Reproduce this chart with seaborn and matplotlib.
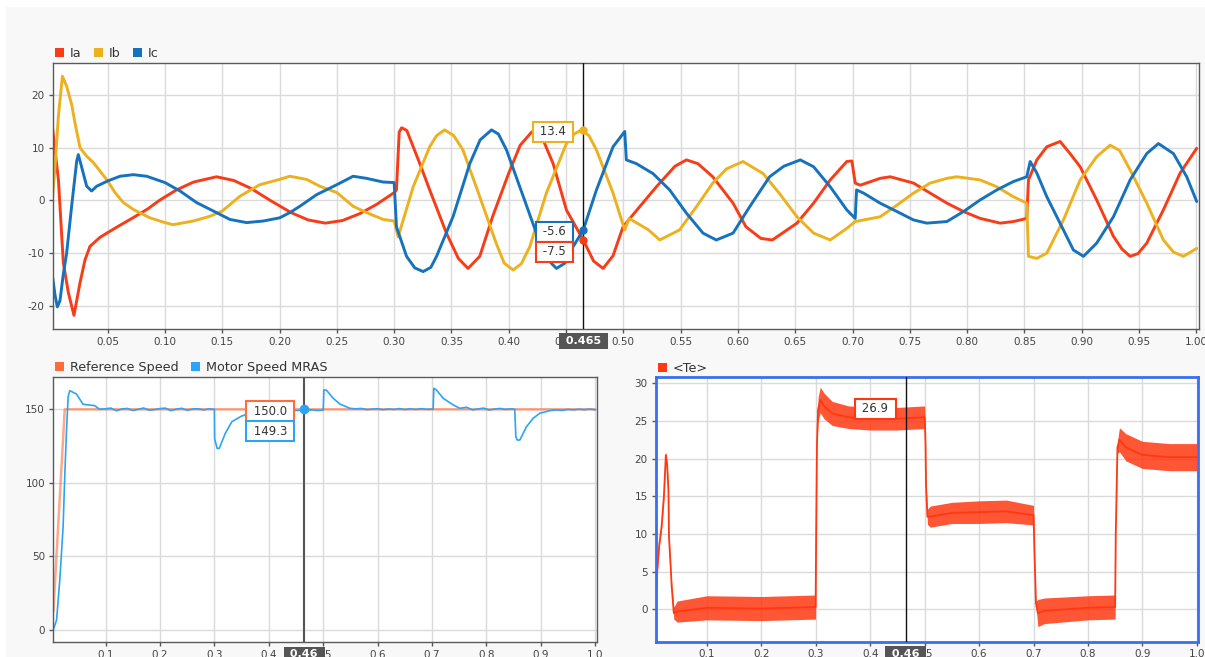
import numpy as np
import pandas as pd
import matplotlib
matplotlib.use("Agg")
import matplotlib.pyplot as plt
import matplotlib.transforms as mtransforms
from matplotlib.patches import Patch, Rectangle
import seaborn as sns

# ---------------- data ----------------
ia_t = [0.001, 0.007, 0.0113, 0.0157, 0.0206, 0.0259, 0.0302, 0.0346, 0.0433, 0.050, 0.060, 0.072, 0.085, 0.095,
        0.110, 0.125, 0.145, 0.160, 0.175, 0.192, 0.210, 0.225, 0.240, 0.255, 0.270, 0.285, 0.300, 0.302, 0.3044,
        0.3065, 0.311, 0.3224, 0.331, 0.3456, 0.356, 0.3645, 0.3747, 0.386, 0.400, 0.410, 0.420, 0.430, 0.4387,
        0.4503, 0.465, 0.474, 0.4823, 0.491, 0.4997, 0.5084, 0.5288, 0.545, 0.555, 0.565, 0.578, 0.5957, 0.607,
        0.620, 0.630, 0.6515, 0.666, 0.6805, 0.695, 0.6994, 0.7023, 0.7067, 0.724, 0.7329, 0.7532, 0.7677, 0.7823,
        0.7968, 0.8113, 0.8288, 0.8404, 0.852, 0.8535, 0.8608, 0.8695, 0.8811, 0.8898, 0.8986, 0.913, 0.9276,
        0.935, 0.9422, 0.949, 0.9567, 0.9712, 0.9858, 1.0003]
ia_v = [15.5, 4.0, -11.8, -17.5, -21.8, -15.6, -11.3, -8.7, -7.0, -6.1, -4.8, -3.3, -1.6, 0.0, 2.0, 3.5, 4.5, 3.8,
        2.3, 0.0, -2.3, -3.7, -4.3, -3.8, -2.5, -0.7, 1.5, 2.0, 13.0, 13.8, 13.3, 7.0, 2.0, -6.2, -11.0, -12.9,
        -10.6, -3.0, 5.2, 10.5, 13.0, 11.5, 7.0, -1.8, -7.5, -11.5, -12.9, -10.5, -5.0, -2.7, 2.6, 6.5, 7.7, 7.0,
        4.5, -0.5, -5.0, -7.2, -7.5, -4.3, -0.5, 3.9, 7.4, 7.5, 3.3, 2.9, 4.2, 4.5, 3.3, 1.4, -0.5, -2.1, -3.4,
        -4.3, -4.0, -3.4, 3.9, 7.7, 10.2, 11.2, 8.9, 6.4, 0.1, -6.8, -9.2, -10.6, -10.1, -8.1, -1.8, 5.2, 9.9]

ib_t = [0.001, 0.0041, 0.007, 0.0105, 0.0142, 0.0186, 0.0215, 0.0259, 0.0317, 0.0375, 0.0433, 0.050, 0.0564,
        0.0637, 0.0724, 0.0869, 0.100, 0.107, 0.1247, 0.1392, 0.150, 0.1654, 0.1828, 0.200, 0.209, 0.2236, 0.2352,
        0.250, 0.2642, 0.2759, 0.2904, 0.300, 0.3035, 0.3166, 0.331, 0.337, 0.344, 0.352, 0.360, 0.3747, 0.389,
        0.396, 0.4038, 0.411, 0.4183, 0.4328, 0.4503, 0.457, 0.4634, 0.470, 0.4765, 0.491, 0.5012, 0.505, 0.522,
        0.5317, 0.549, 0.5637, 0.578, 0.590, 0.6044, 0.622, 0.6363, 0.6515, 0.666, 0.6805, 0.695, 0.7023, 0.724,
        0.7387, 0.7532, 0.7677, 0.7823, 0.791, 0.8113, 0.8259, 0.8404, 0.852, 0.8535, 0.8608, 0.8695, 0.884,
        0.8986, 0.913, 0.9247, 0.933, 0.9422, 0.9567, 0.9712, 0.980, 0.9887, 1.0003]
ib_v = [-2.0, 6.5, 16.0, 23.6, 21.7, 18.2, 14.7, 10.0, 8.4, 7.2, 5.6, 3.7, 1.5, -0.4, -1.7, -3.3, -4.2, -4.6, -3.9,
        -3.0, -2.0, 0.8, 3.0, 4.0, 4.6, 4.0, 2.7, 1.5, -1.1, -2.3, -3.6, -3.9, -6.9, 2.6, 10.2, 12.3, 13.4, 12.3,
        9.6, 0.7, -8.1, -11.9, -13.2, -12.0, -8.8, 1.4, 10.8, 12.6, 13.4, 12.3, 9.6, 1.4, -5.6, -3.4, -5.6, -7.5,
        -5.6, -1.2, 3.3, 6.0, 7.4, 5.1, 1.3, -3.1, -6.2, -7.5, -5.3, -4.0, -3.1, -0.9, 1.4, 3.3, 4.2, 4.5, 3.9,
        2.6, 0.7, -0.5, -10.6, -11.0, -10.0, -3.7, 3.9, 8.3, 10.5, 9.5, 5.8, -0.5, -7.5, -9.8, -10.6, -9.1]

ic_t = [0.001, 0.0041, 0.0061, 0.0084, 0.0113, 0.0142, 0.0186, 0.023, 0.0244, 0.0265, 0.0317, 0.036, 0.0404,
        0.050, 0.0608, 0.0724, 0.084, 0.100, 0.1131, 0.1276, 0.1422, 0.1567, 0.1712, 0.1858, 0.200, 0.209, 0.2177,
        0.2323, 0.250, 0.2642, 0.2759, 0.2904, 0.300, 0.302, 0.305, 0.3108, 0.318, 0.3253, 0.332, 0.337, 0.3515,
        0.366, 0.375, 0.385, 0.391, 0.398, 0.4096, 0.4241, 0.433, 0.4416, 0.449, 0.4561, 0.465, 0.4765, 0.491,
        0.5012, 0.5026, 0.5113, 0.5259, 0.5404, 0.555, 0.5695, 0.5811, 0.5957, 0.6102, 0.6276, 0.640, 0.6544,
        0.666, 0.6805, 0.695, 0.7023, 0.7035, 0.7096, 0.724, 0.7387, 0.7532, 0.7648, 0.7823, 0.7968, 0.8113,
        0.8259, 0.8404, 0.852, 0.855, 0.8608, 0.8695, 0.884, 0.8927, 0.9015, 0.913, 0.9276, 0.9422, 0.9567,
        0.9669, 0.980, 0.9916, 1.0003]
ic_v = [-13.0, -18.0, -20.2, -19.0, -14.0, -10.0, -1.0, 7.5, 8.7, 7.0, 2.7, 1.8, 2.7, 3.7, 4.6, 4.9, 4.6, 3.4, 1.8,
        -0.4, -2.0, -3.6, -4.2, -3.9, -3.3, -2.3, -1.1, 1.1, 3.0, 4.6, 4.2, 3.5, 3.4, -5.0, -6.9, -10.6, -12.8,
        -13.5, -12.7, -10.6, -3.0, 7.0, 11.5, 13.4, 12.6, 9.6, 2.6, -6.2, -11.0, -12.9, -11.9, -8.8, -5.6, 2.0,
        10.2, 13.1, 7.7, 7.0, 5.1, 2.0, -2.4, -6.2, -7.5, -6.2, -1.2, 4.5, 6.5, 7.7, 6.4, 2.6, -1.8, -3.4, 2.0,
        1.4, -0.5, -2.1, -3.7, -4.3, -4.0, -2.1, 0.1, 2.0, 3.6, 4.5, 7.4, 5.2, 0.7, -5.6, -9.4, -10.6, -8.1,
        -3.1, 3.9, 8.9, 10.8, 8.9, 4.5, -0.2]

ref_t = [0.004, 0.025, 1.0]
ref_v = [12.0, 150.0, 150.0]

mot_t = [0.004, 0.010, 0.016, 0.022, 0.0252, 0.0283, 0.0313, 0.0343, 0.0465, 0.0587, 0.080, 0.089, 0.10, 0.11,
         0.12, 0.13, 0.14, 0.15, 0.16, 0.17, 0.18, 0.19, 0.20, 0.21, 0.22, 0.23, 0.24, 0.25, 0.26, 0.27, 0.28,
         0.29, 0.30, 0.3005, 0.305, 0.309, 0.32, 0.3322, 0.3505, 0.37, 0.39, 0.41, 0.43, 0.45, 0.465, 0.48, 0.49,
         0.50, 0.5012, 0.506, 0.5184, 0.5306, 0.549, 0.56, 0.57, 0.58, 0.59, 0.60, 0.61, 0.62, 0.63, 0.64, 0.65,
         0.66, 0.67, 0.68, 0.69, 0.702, 0.7033, 0.708, 0.7205, 0.7388, 0.751, 0.7633, 0.775, 0.785, 0.795, 0.805,
         0.815, 0.825, 0.835, 0.845, 0.852, 0.854, 0.8565, 0.8614, 0.8736, 0.8859, 0.898, 0.9165, 0.93, 0.94,
         0.95, 0.96, 0.97, 0.98, 0.99, 1.0]
mot_v = [0, 6.6, 34, 70, 106, 136, 158.6, 162.7, 160.4, 153.4, 152.5, 150.0, 150.4, 150.8, 149.0, 150.2, 150.6,
         149.2, 150.0, 150.9, 149.4, 149.8, 150.5, 150.8, 149.1, 150.1, 150.7, 149.3, 150.2, 150.4, 149.6, 150.3,
         150.0, 130.0, 123.4, 123.4, 133.6, 141.6, 145.5, 147.5, 148.5, 149.0, 149.3, 149.2, 149.3, 149.6, 149.2,
         149.4, 163.2, 163.0, 157.5, 153.6, 150.7, 150.3, 150.6, 149.8, 150.1, 150.4, 149.7, 150.2, 149.9, 150.5,
         149.8, 150.3, 149.9, 150.4, 150.0, 150.1, 164.3, 163.2, 157.5, 153.0, 150.7, 151.4, 149.6, 150.3, 150.8,
         149.5, 150.2, 150.6, 149.9, 150.3, 150.0, 131.4, 129.1, 129.1, 138.2, 143.9, 147.3, 149.1, 149.6, 149.3,
         150.0, 149.6, 150.1, 149.7, 150.2, 149.6]

te_t = [0.005, 0.0085, 0.012, 0.0164, 0.0206, 0.0242, 0.0267, 0.029, 0.030, 0.0327, 0.035, 0.0388, 0.045, 0.10,
        0.20, 0.2995, 0.3005, 0.302, 0.304, 0.308, 0.315, 0.33, 0.36, 0.40, 0.45, 0.50, 0.5015, 0.5025, 0.505,
        0.51, 0.55, 0.60, 0.65, 0.70, 0.702, 0.7045, 0.708, 0.72, 0.80, 0.85, 0.8512, 0.8543, 0.858, 0.87, 0.90,
        0.95, 1.0]
te_mid = [0, 5.2, 8.5, 11, 15, 20.5, 19, 15.8, 9.6, 6.1, 3.0, -0.5, -0.3, 0.2, 0.1, 0.3, 10.3, 22, 26.5, 27.8,
          27, 26, 25.5, 25.3, 25.3, 25.5, 22, 16.3, 12.3, 12.3, 12.8, 12.9, 13.0, 12.5, 7.0, 0.8, -0.5, -0.2, 0.2,
          0.3, 10, 21.5, 22.5, 21.5, 20.5, 20.2, 20.2]
te_spread = [0, 0.3, 0.3, 0.3, 0.4, 0.4, 0.4, 0.3, 0.3, 0.3, 0.3, 0.8, 1.4, 1.6, 1.6, 1.6, 0, 0.5, 1.6, 1.7, 1.7,
             1.6, 1.5, 1.5, 1.5, 1.5, 0.3, 0.3, 1.0, 1.4, 1.4, 1.5, 1.5, 1.3, 0.3, 0.3, 1.8, 1.7, 1.6, 1.6, 0.3,
             0.8, 1.6, 1.8, 1.8, 1.8, 1.8]

cursor_t = 0.465
cursor_labels = ["0.465", "0.46", "0.46"]
cur_tips = [("Ib", 13.4), ("Ic", -5.6), ("Ia", -7.5)]
speed_tips = [("Reference Speed", 150.0), ("Motor Speed MRAS", 149.3)]
te_tips = [("<Te>", 26.9)]

top_xticks = [0.05 * k for k in range(1, 21)]
top_yticks = [-20, -10, 0, 10, 20]
bot_xticks = [0.1 * k for k in range(1, 11)]
spd_yticks = [0, 50, 100, 150]
te_yticks = [0, 5, 10, 15, 20, 25, 30]

# ---------------- colours ----------------
C = {"Ia": "#f83c17", "Ib": "#edb120", "Ic": "#1672bd",
     "Reference Speed": "#ff6e3a", "Motor Speed MRAS": "#2da3f7", "<Te>": "#ff3812"}

sns.set_theme(style="whitegrid")
plt.rcParams['font.family'] = ['DejaVu Sans']

W, H = 1205, 657
fig = plt.figure(figsize=(W / 100, H / 100), dpi=100, facecolor="white")
fig.patches.append(Rectangle((6 / W, 0), 1, 1 - 7 / H, transform=fig.transFigure,
                             facecolor="#f8f8f8", edgecolor="none", zorder=-10))


def px_axes(l, t, r, b):
    return fig.add_axes([l / W, 1 - b / H, (r - l) / W, (b - t) / H])


ax1 = px_axes(53, 63, 1199, 329)
ax2 = px_axes(53.3, 376.7, 596.7, 642.3)
ax3 = px_axes(656, 377.3, 1197.7, 641.7)


def style(ax, xlim, ylim, xticks, yticks, fmt):
    ax.set_facecolor("white")
    ax.set_xlim(*xlim)
    ax.set_ylim(*ylim)
    ax.set_xticks(xticks)
    ax.set_xticklabels([fmt.format(v) for v in xticks])
    ax.set_yticks(yticks)
    ax.set_yticklabels([str(v) for v in yticks])
    ax.grid(True, color="#dadada", linewidth=1.0)
    ax.tick_params(axis="both", labelsize=7.5, labelcolor="#444444", color="#555555",
                   length=3, width=1, direction="out", pad=3, bottom=True, left=True)
    ax.tick_params(axis="x", pad=2.5)
    for sp in ax.spines.values():
        sp.set_visible(True)
        sp.set_color("#5a5a5a")
        sp.set_linewidth(1.0)
    ax.set_xlabel("")
    ax.set_ylabel("")


# ---------------- top: phase currents ----------------
for name, t, v in [("Ia", ia_t, ia_v), ("Ib", ib_t, ib_v), ("Ic", ic_t, ic_v)]:
    df = pd.DataFrame({"t": t, "v": v})
    sns.lineplot(data=df, x="t", y="v", ax=ax1, color=C[name], linewidth=2.1,
                 estimator=None, sort=False, legend=False)
style(ax1, (0.0023, 1.0023), (-24.4, 26.1), top_xticks, top_yticks, "{:.2f}")

# ---------------- bottom-left: speed ----------------
sns.lineplot(x=ref_t, y=ref_v, ax=ax2, color=C["Reference Speed"], alpha=0.6, linewidth=1.8,
             estimator=None, sort=False, legend=False)
sns.lineplot(x=mot_t, y=mot_v, ax=ax2, color=C["Motor Speed MRAS"], linewidth=1.2,
             estimator=None, sort=False, legend=False)
style(ax2, (0.004, 1.0026), (-8.6, 172.2), bot_xticks, spd_yticks, "{:.1f}")

# ---------------- bottom-right: torque ----------------
te_mid_a = np.array(te_mid)
te_sp_a = np.array(te_spread)
ax3.fill_between(te_t, te_mid_a - te_sp_a, te_mid_a + te_sp_a, color=C["<Te>"], alpha=0.85, linewidth=0)
sns.lineplot(x=te_t, y=te_mid, ax=ax3, color=C["<Te>"], linewidth=1.3,
             estimator=None, sort=False, legend=False)
style(ax3, (0.0061, 1.0018), (-4.3, 30.8), bot_xticks, te_yticks, "{:.1f}")
for sp in ax3.spines.values():
    sp.set_color("#3a6ff0")
    sp.set_linewidth(2.0)

# ---------------- legends ----------------
def legend(ax, names):
    handles = [Patch(facecolor=C[n], edgecolor="none", label=n) for n in names]
    lg = ax.legend(handles=handles, loc="lower left", bbox_to_anchor=(0.0, 1.003), ncol=len(names),
                   frameon=False, fontsize=9.2, handlelength=0.7, handleheight=0.7,
                   handletextpad=0.45, columnspacing=1.0, borderaxespad=0.0, borderpad=0.15)
    for txt in lg.get_texts():
        txt.set_color("#333333")


legend(ax1, ["Ia", "Ib", "Ic"])
legend(ax2, ["Reference Speed", "Motor Speed MRAS"])
legend(ax3, ["<Te>"])

# ---------------- cursors ----------------
ax1.axvline(cursor_t, color="#111111", linewidth=1.0, zorder=6)
ax2.axvline(cursor_t, color="#555555", linewidth=1.5, zorder=6)
ax3.axvline(cursor_t, color="#111111", linewidth=1.0, zorder=6)

for ax, lab in zip([ax1, ax2, ax3], cursor_labels):
    trans = mtransforms.blended_transform_factory(ax.transData, ax.transAxes)
    ax.annotate(" " + lab + " ", xy=(cursor_t, 0), xycoords=trans, xytext=(0, -7),
                textcoords="offset pixels", ha="center", va="top", fontsize=8, fontweight="bold",
                color="white", zorder=20, annotation_clip=False,
                bbox=dict(boxstyle="square,pad=0.25", facecolor="#555555", edgecolor="none"))


def tip(ax, name, val, dy, show_dot=True):
    col = C[name]
    if show_dot:
        ax.plot([cursor_t], [val], marker="o", markersize=5, color=col, zorder=9)
    ax.annotate(" {:.1f} ".format(val), xy=(cursor_t, val), xytext=(-13.5, dy), textcoords="offset pixels",
                ha="right", va="center", fontsize=8.5, color="#333333", zorder=10,
                bbox=dict(boxstyle="square,pad=0.3", facecolor="white", edgecolor=col, linewidth=1.5))


for (name, val), dy in zip(cur_tips, [-2, -2, -12]):
    tip(ax1, name, val, dy)
tip(ax2, speed_tips[0][0], speed_tips[0][1], -2, show_dot=False)
tip(ax2, speed_tips[1][0], speed_tips[1][1], -21, show_dot=False)
ax2.plot([cursor_t], [speed_tips[0][1]], marker="o", markersize=6, color=C["Motor Speed MRAS"], zorder=9)
tip(ax3, te_tips[0][0], te_tips[0][1], -2, show_dot=False)

fig.savefig("out.png", dpi=100, facecolor=fig.get_facecolor())
